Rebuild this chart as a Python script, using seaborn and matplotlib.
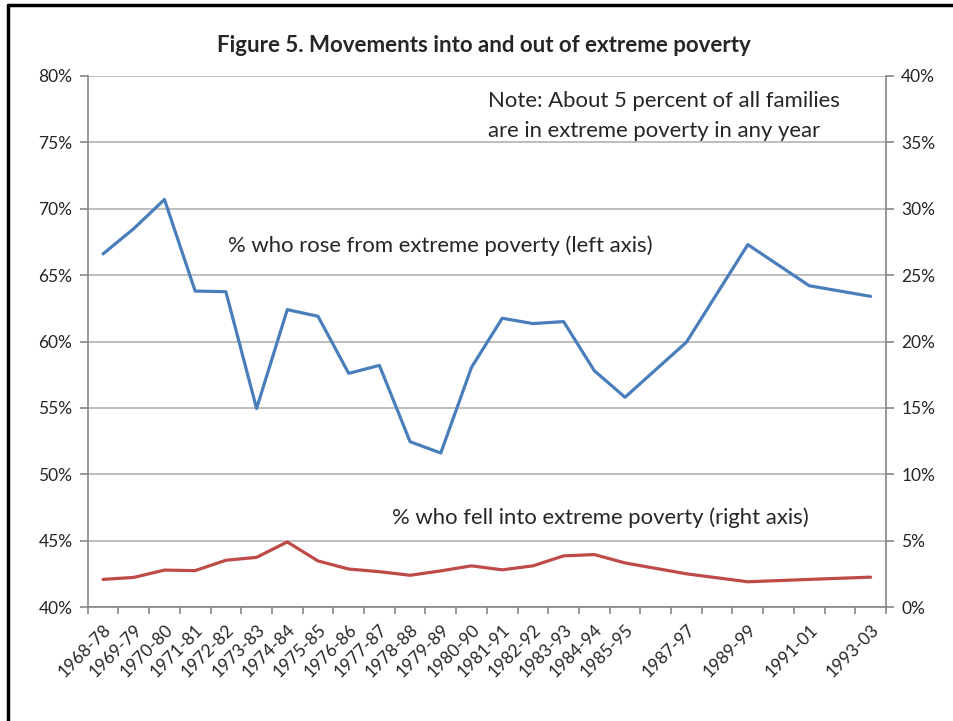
import matplotlib
matplotlib.use("Agg")
import matplotlib.pyplot as plt
import matplotlib.ticker as mticker
import matplotlib.transforms as mtransforms
import numpy as np
import pandas as pd
import seaborn as sns

# --- Data -------------------------------------------------------------------
periods = ['1968-78', '1969-79', '1970-80', '1971-81', '1972-82', '1973-83',
           '1974-84', '1975-85', '1976-86', '1977-87', '1978-88', '1979-89',
           '1980-90', '1981-91', '1982-92', '1983-93', '1984-94', '1985-95',
           '1987-97', '1989-99', '1991-01', '1993-03']
start_years = [int(p[:4]) for p in periods]

rose_pct = [66.6, 68.5, 70.7, 63.8, 63.75, 54.95, 62.4, 61.9, 57.6, 58.2,
            52.45, 51.6, 58.05, 61.75, 61.35, 61.5, 57.8, 55.8,
            59.95, 67.3, 64.2, 63.4]
fell_pct = [2.08, 2.23, 2.78, 2.74, 3.52, 3.74, 4.90, 3.47, 2.86, 2.66,
            2.39, 2.72, 3.10, 2.80, 3.10, 3.85, 3.95, 3.32,
            2.50, 1.90, 2.08, 2.25]

df = pd.DataFrame({'start': start_years, 'period': periods,
                   'rose': rose_pct, 'fell': fell_pct})

BLUE = '#4A7EBB'
RED = '#BE4B48'
GRID = '#B3B3B3'
AXIS = '#868686'

sns.set_style("white")
plt.rcParams['font.family'] = ['Lato', 'DejaVu Sans']

W, H = 954, 721
fig = plt.figure(figsize=(W / 100, H / 100), dpi=100)

# plot area in pixel coords
left, right, top, bottom = 87.7, 886, 76, 607
ax = fig.add_axes([left / W, 1 - bottom / H, (right - left) / W, (bottom - top) / H])
ax2 = ax.twinx()

sns.lineplot(data=df, x='start', y='rose', color=BLUE, linewidth=2.3, ax=ax)
sns.lineplot(data=df, x='start', y='fell', color=RED, linewidth=2.3, ax=ax2)

ax.set_xlim(1967.5, 1993.5)
ax.set_ylim(40, 80)
ax2.set_ylim(0, 40)

ax.set_yticks(np.arange(40, 81, 5))
ax2.set_yticks(np.arange(0, 41, 5))
ax.yaxis.set_major_formatter(mticker.FuncFormatter(lambda v, p: f'{v:.0f}%'))
ax2.yaxis.set_major_formatter(mticker.FuncFormatter(lambda v, p: f'{v:.0f}%'))

ax.set_xticks(start_years)
ax.set_xticklabels(periods, rotation=45, ha='right', rotation_mode='anchor')
ax.set_xticks(np.arange(1967.5, 1994, 1), minor=True)

# nudge rotated labels a little to the right, like Excel does
shift = mtransforms.ScaledTranslation(5 / 100, 0, fig.dpi_scale_trans)
for lbl in ax.get_xticklabels():
    lbl.set_transform(lbl.get_transform() + shift)

ax.grid(axis='y', color=GRID, linewidth=1.2)
ax.set_axisbelow(True)
ax.set_xlabel('')
ax.set_ylabel('')
ax2.set_ylabel('')

for a in (ax, ax2):
    for s in a.spines.values():
        s.set_visible(False)
ax.spines['left'].set_visible(True)
ax.spines['bottom'].set_visible(True)
ax2.spines['right'].set_visible(True)
for s in (ax.spines['left'], ax.spines['bottom'], ax2.spines['right']):
    s.set_color(AXIS)
    s.set_linewidth(1.2)

ax.tick_params(axis='y', which='major', left=True, length=6, color=AXIS,
               width=1.2, labelsize=12.5, pad=5)
ax2.tick_params(axis='y', which='major', right=True, length=6, color=AXIS,
                width=1.2, labelsize=12.5, pad=5)
ax.tick_params(axis='x', which='major', bottom=False, labelsize=12.5, pad=7)
ax.tick_params(axis='x', which='minor', bottom=True, length=5, color=AXIS,
               width=1.2)

# annotations
fig.text(484 / W, 1 - 45 / H, 'Figure 5. Movements into and out of extreme poverty',
         ha='center', va='center', fontsize=16, fontweight='bold')
fig.text(488 / W, 1 - 101 / H, 'Note: About 5 percent of all families',
         ha='left', va='center', fontsize=15.9)
fig.text(488 / W, 1 - 131 / H, 'are in extreme poverty in any year',
         ha='left', va='center', fontsize=15.9)
fig.text(228 / W, 1 - 246 / H, '% who rose from extreme poverty (left axis)',
         ha='left', va='center', fontsize=15.9)
fig.text(392 / W, 1 - 518 / H, '% who fell into extreme poverty (right axis)',
         ha='left', va='center', fontsize=15.9)

# outer frame (top and left edges visible in the reference)
fig.add_artist(plt.Line2D([8 / W, 1], [1 - 5 / H, 1 - 5 / H], color='black',
                          linewidth=2.5, transform=fig.transFigure))
fig.add_artist(plt.Line2D([8 / W, 8 / W], [0, 1 - 5 / H], color='black',
                          linewidth=2.5, transform=fig.transFigure))

fig.savefig('out.png', dpi=100)
